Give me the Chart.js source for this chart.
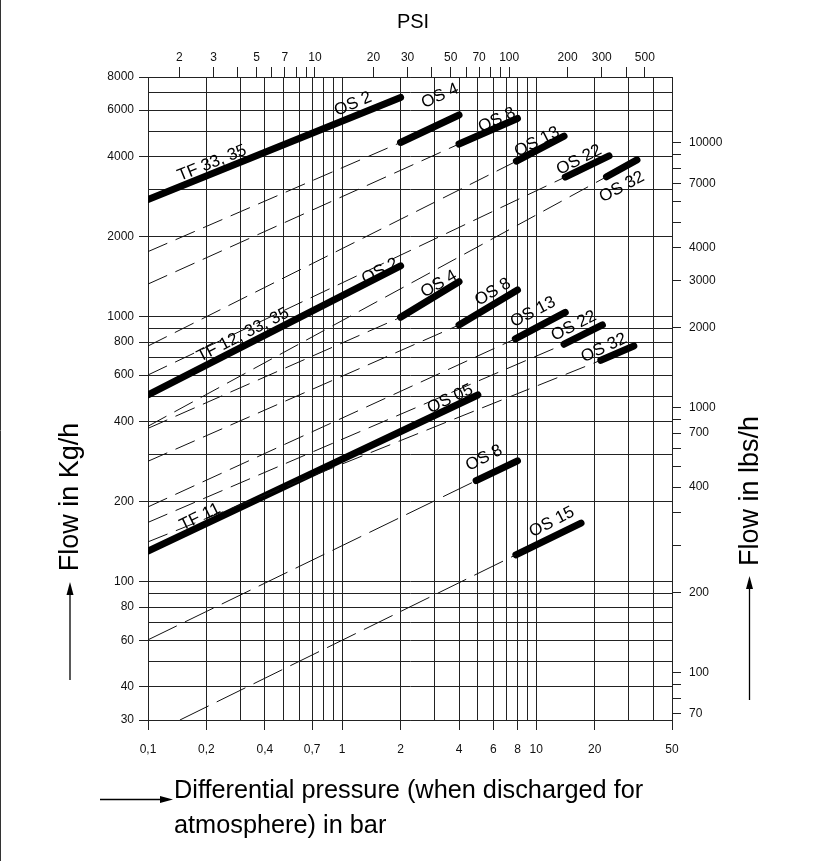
<!DOCTYPE html>
<html><head><meta charset="utf-8">
<script src="https://cdn.jsdelivr.net/npm/chart.js@4.4.1/dist/chart.umd.min.js"></script>
<style>html,body{margin:0;padding:0;background:#fff;}#wrap{width:828px;height:861px;}</style>
</head><body><div id="wrap"><canvas id="c" width="828" height="861"></canvas></div>
<script>
// ---- axis ticks ----
const pressureTicksBar = [0.1,0.2,0.3,0.4,0.5,0.6,0.7,0.8,0.9,1,2,3,4,5,6,7,8,9,10,20,30,40,50];
const pressureLabelBar = {0.1:'0,1',0.2:'0,2',0.4:'0,4',0.7:'0,7',1:'1',2:'2',4:'4',6:'6',8:'8',10:'10',20:'20',50:'50'};
const flowTicksKg = [30,40,50,60,70,80,90,100,200,300,400,500,600,700,800,900,1000,2000,3000,4000,5000,6000,7000,8000];
const flowLabelsKg = [30,40,60,80,100,200,400,600,800,1000,2000,4000,6000,8000];
const psiTicks = [2,3,4,5,6,7,8,9,10,20,30,40,50,60,70,80,90,100,200,300,400,500];
const psiLabels = [2,3,5,7,10,20,30,50,70,100,200,300,500];
const lbsTicks = [70,80,90,100,200,300,400,500,600,700,800,900,1000,2000,3000,4000,5000,6000,7000,8000,9000,10000];
const lbsLabelText = {70:'70',100:'100',200:'200',500:'400',800:'700',1000:'1000',2000:'2000',3000:'3000',4000:'4000',7000:'7000',10000:'10000'};
const BAR_TO_PSI = 13.8, KG_TO_LBS = 2.20462;

// ---- thick capacity segments [bar, kg/h] ----
const tf3335_os2  = [[0.1,2760],[2,6700]];
const os4_high    = [[2,4530],[4,5750]];
const os8_high    = [[4,4470],[8,5580]];
const os13_high   = [[7.9,3850],[13.9,4790]];
const os22_high   = [[14.1,3355],[23.7,4030]];
const os32_high   = [[23,3364],[33,3894]];
const tf123335_os2= [[0.1,505],[2,1550]];
const os4_mid     = [[2,992],[4,1352]];
const os8_mid     = [[4,928],[8,1258]];
const os13_mid    = [[7.8,823],[14.1,1036]];
const os22_mid    = [[13.9,785],[21.9,928]];
const os32_mid    = [[21.5,683],[31.8,773]];
const tf11_os05   = [[0.1,130],[5,505]];
const os8_low     = [[4.9,240],[8,285]];
const os15_low    = [[7.85,126],[17,166]];

// ---- dashed extensions [bar, kg/h] ----
const ext_os4_high  = [[0.1,1755],[2,4530]];
const ext_os8_high  = [[0.1,1324],[4,4470]];
const ext_os13_high = [[0.1,773],[7.9,3850]];
const ext_os22_high = [[0.1,601],[14.1,3355]];
const ext_os32_high = [[0.1,385],[23,3364]];
const ext_os4_mid   = [[0.1,378],[2,992]];
const ext_os8_mid   = [[0.1,284],[4,928]];
const ext_os13_mid  = [[0.1,191],[7.8,823]];
const ext_os22_mid  = [[0.1,167],[13.9,785]];
const ext_os32_mid  = [[0.1,141],[21.5,683]];
const ext_os8_low   = [[0.1,60.2],[4.9,240]];
const ext_os15_low  = [[0.146,30],[7.85,126]];

const thickSegments = [tf3335_os2,os4_high,os8_high,os13_high,os22_high,os32_high,tf123335_os2,os4_mid,os8_mid,os13_mid,os22_mid,os32_mid,tf11_os05,os8_low,os15_low];
const dashUpper = [ext_os4_high,ext_os8_high,ext_os13_high,ext_os22_high,ext_os32_high,ext_os4_mid,ext_os8_mid,ext_os13_mid,ext_os22_mid,ext_os32_mid];
const dashLower = [ext_os8_low,ext_os15_low];

// ---- curve labels: text, bar, kg/h, angle ----
const curveLabels = [
  ['TF 33, 35',0.2136,3786,-22],['OS 2',1.137,6320,-23],['OS 4',3.19,6780,-24],['OS 8',6.27,5503,-25],
  ['OS 13',10.08,4548,-27],['OS 22',16.6,3892,-27],['OS 32',27.6,3077,-28],
  ['TF 12, 33, 35',0.3087,851,-27],['OS 2',1.567,1478,-27],['OS 4',3.15,1324,-30],['OS 8',5.98,1236,-31],
  ['OS 13',9.62,1038,-27],['OS 22',15.6,920,-27],['OS 32',22.3,760,-25],
  ['OS 05',3.6,488,-25],['TF 11',0.1853,175,-26],['OS 8',5.38,292,-27],['OS 15',12.04,167.5,-27]
];

const FONT = "'Liberation Sans', Arial, sans-serif";
const GRID = '#222';
const toXY = seg => seg.map(p => ({x:p[0], y:p[1]}));
const datasets = [];
dashUpper.forEach(s => datasets.push({data:toXY(s), borderColor:'#111', borderWidth:1, borderDash:[21,9], pointRadius:0, fill:false, tension:0}));
dashLower.forEach(s => datasets.push({data:toXY(s), borderColor:'#111', borderWidth:1, borderDash:[32,9], pointRadius:0, fill:false, tension:0}));
thickSegments.forEach(s => datasets.push({data:toXY(s), borderColor:'#000', borderWidth:7, borderCapStyle:'round', pointRadius:0, fill:false, tension:0}));

function setTicks(vals){ return s => { s.ticks = vals.map(v => ({value:v})); }; }
const tickFont = {family:FONT, size:12};

function arrow(ctx, x1, y1, x2, y2){
  const a = Math.atan2(y2-y1, x2-x1), L = 13, W = 3.5;
  ctx.beginPath(); ctx.moveTo(x1,y1); ctx.lineTo(x2 - L*Math.cos(a), y2 - L*Math.sin(a)); ctx.lineWidth = 1.3; ctx.stroke();
  ctx.beginPath(); ctx.moveTo(x2,y2);
  ctx.lineTo(x2 - L*Math.cos(a) + W*Math.sin(a), y2 - L*Math.sin(a) - W*Math.cos(a));
  ctx.lineTo(x2 - L*Math.cos(a) - W*Math.sin(a), y2 - L*Math.sin(a) + W*Math.cos(a));
  ctx.closePath(); ctx.fill();
}

const decor = {
  id:'decor',
  afterDatasetsDraw(chart){
    const ctx = chart.ctx, sx = chart.scales.x, sy = chart.scales.y;
    ctx.save();
    ctx.fillStyle = '#000'; ctx.textAlign = 'center'; ctx.textBaseline = 'middle';
    ctx.font = '17px ' + FONT;
    curveLabels.forEach(l => {
      const px = sx.getPixelForValue(l[1]), py = sy.getPixelForValue(l[2]);
      ctx.save(); ctx.translate(px, py); ctx.rotate(l[3]*Math.PI/180); ctx.fillText(l[0], 0, 0); ctx.restore();
    });
    ctx.restore();
  },
  afterDraw(chart){
    const ctx = chart.ctx;
    ctx.save();
    ctx.fillStyle = '#000'; ctx.strokeStyle = '#000';
    ctx.font = '20px ' + FONT; ctx.textAlign = 'center'; ctx.textBaseline = 'middle';
    ctx.fillText('PSI', 413, 22);
    ctx.font = '27px ' + FONT;
    ctx.save(); ctx.translate(71, 497); ctx.rotate(-Math.PI/2); ctx.fillText('Flow in Kg/h', 0, 0); ctx.restore();
    ctx.save(); ctx.translate(751, 491); ctx.rotate(-Math.PI/2); ctx.fillText('Flow in lbs/h', 0, 0); ctx.restore();
    ctx.font = '25.3px ' + FONT;
    ctx.textAlign = 'left'; ctx.textBaseline = 'alphabetic';
    ctx.fillText('Differential pressure (when discharged for', 174, 798);
    ctx.fillText('atmosphere) in bar', 174, 833);
    arrow(ctx, 70, 680, 70, 582);
    arrow(ctx, 749.5, 700, 749.5, 576);
    arrow(ctx, 100, 799.5, 173, 799.5);
    ctx.beginPath(); ctx.moveTo(0.5, 0); ctx.lineTo(0.5, 861); ctx.lineWidth = 1; ctx.strokeStyle = '#333'; ctx.stroke();
    ctx.restore();
  }
};

new Chart(document.getElementById('c'), {
  type:'line',
  data:{datasets},
  options:{
    responsive:false, animation:false, devicePixelRatio:1,
    layout:{padding:0},
    plugins:{legend:{display:false}, tooltip:{enabled:false}},
    scales:{
      x:{type:'logarithmic', position:'bottom', min:0.1, max:50,
        afterBuildTicks:setTicks(pressureTicksBar), afterFit:s=>{s.height=141;},
        grid:{color:GRID, lineWidth:1, tickLength:10, tickColor:c=> (c.tick && pressureLabelBar[c.tick.value]!==undefined) ? GRID : 'rgba(0,0,0,0)'},
        border:{display:true, color:GRID},
        ticks:{autoSkip:false, maxRotation:0, padding:12, font:tickFont, color:'#111', callback:v=> pressureLabelBar[v]!==undefined ? pressureLabelBar[v] : ''}},
      x2:{type:'logarithmic', position:'top', min:0.1*BAR_TO_PSI, max:50*BAR_TO_PSI,
        afterBuildTicks:setTicks(psiTicks), afterFit:s=>{s.height=77;},
        grid:{drawOnChartArea:false, color:GRID, tickLength:10},
        border:{display:true, color:GRID},
        ticks:{autoSkip:false, maxRotation:0, padding:2, font:tickFont, color:'#111', callback:v=> psiLabels.includes(v) ? String(v) : ''}},
      y:{type:'logarithmic', position:'left', min:30, max:8000,
        afterBuildTicks:setTicks(flowTicksKg), afterFit:s=>{s.width=148;},
        grid:{color:GRID, lineWidth:1, tickLength:9, tickColor:c=> (c.tick && flowLabelsKg.includes(c.tick.value)) ? GRID : 'rgba(0,0,0,0)'},
        border:{display:true, color:GRID},
        ticks:{autoSkip:false, padding:5, font:tickFont, color:'#111', callback:v=> flowLabelsKg.includes(v) ? String(v) : ''}},
      y2:{type:'logarithmic', position:'right', min:30*KG_TO_LBS, max:8000*KG_TO_LBS,
        afterBuildTicks:setTicks(lbsTicks), afterFit:s=>{s.width=156;},
        grid:{drawOnChartArea:false, color:GRID, tickLength:9},
        border:{display:true, color:GRID},
        ticks:{autoSkip:false, padding:8, font:tickFont, color:'#111', callback:v=> lbsLabelText[v]!==undefined ? lbsLabelText[v] : ''}}
    }
  },
  plugins:[decor]
});
</script></body></html>
